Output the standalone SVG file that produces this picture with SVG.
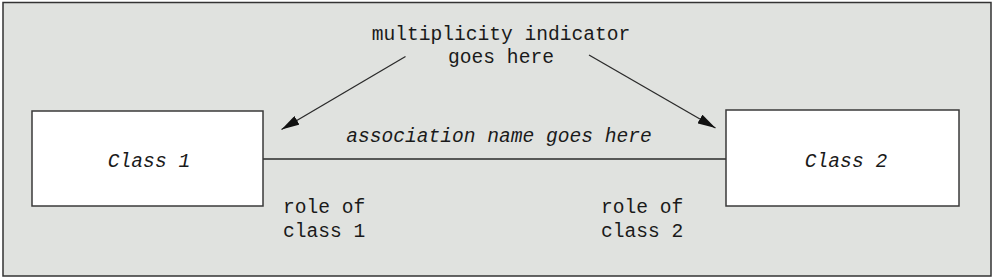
<svg xmlns="http://www.w3.org/2000/svg" width="995" height="279" viewBox="0 0 995 279">
<style>
.t{font-family:"Liberation Mono","DejaVu Sans Mono",monospace;font-size:19.6px;fill:#1a1a1a}
.i{font-style:italic}
.box{fill:#fff;stroke:#3a3a3a;stroke-width:1.5}
.ln{stroke:#2a2a2a;stroke-width:1.3;fill:none}
</style>
<defs>
<marker id="ah" viewBox="0 0 18 10" refX="18" refY="5" markerWidth="18" markerHeight="10" markerUnits="userSpaceOnUse" orient="auto">
<path d="M0,0 L18,5 L0,10 z" fill="#111"/>
</marker>
</defs>
<rect x="3" y="2.5" width="988" height="273.5" fill="#e0e2df" stroke="#333" stroke-width="1.5"/>
<g id="connectors">
<line class="ln" x1="263" y1="159" x2="726" y2="159" stroke="#555"/>
<line class="ln" x1="405.5" y1="56.5" x2="281.5" y2="129.5" marker-end="url(#ah)"/>
<line class="ln" x1="589" y1="55" x2="715.5" y2="128" marker-end="url(#ah)"/>
</g>
<g id="class1">
<rect class="box" x="32" y="111" width="231" height="95"/>
<text class="t i" x="149" y="167" text-anchor="middle">Class 1</text>
</g>
<g id="class2">
<rect class="box" x="726" y="110" width="233" height="96"/>
<text class="t i" x="846" y="167" text-anchor="middle">Class 2</text>
</g>
<g id="labels">
<text class="t" x="501" y="40" text-anchor="middle">multiplicity indicator</text>
<text class="t" x="501" y="63" text-anchor="middle">goes here</text>
<text class="t i" x="499" y="142" text-anchor="middle">association name goes here</text>
<text class="t" x="283" y="213">role of</text>
<text class="t" x="283" y="237">class 1</text>
<text class="t" x="601" y="213">role of</text>
<text class="t" x="601" y="237">class 2</text>
</g>
</svg>
